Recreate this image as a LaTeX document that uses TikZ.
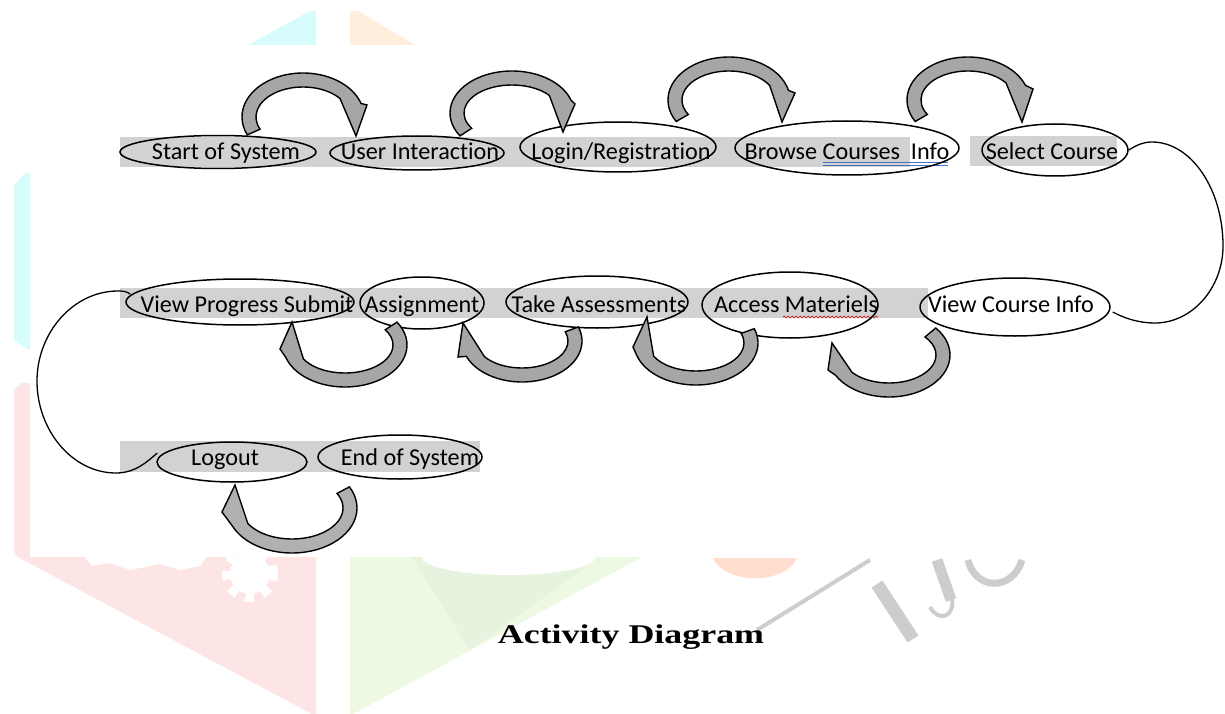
\documentclass[tikz,border=0pt]{standalone}
\usepackage{fontspec}
\setmainfont{Carlito}[Ligatures=NoCommon]
\newfontfamily\titlefont{Liberation Serif}
\usetikzlibrary{shapes.geometric,decorations.pathmorphing}
\definecolor{hl}{RGB}{210,210,210}
\definecolor{arrowfill}{RGB}{166,166,166}
\definecolor{arrowfilltwo}{RGB}{176,176,176}
\definecolor{wmcyan}{RGB}{214,252,252}
\definecolor{wmorange}{RGB}{255,238,220}
\definecolor{wmpink}{RGB}{253,229,229}
\definecolor{wmgreen}{RGB}{238,249,228}
\definecolor{wmgreentwo}{RGB}{230,243,222}
\definecolor{wmgrey}{RGB}{205,205,205}
\definecolor{wmorangetwo}{RGB}{255,222,208}
\definecolor{gramblue}{RGB}{68,114,196}
\newcommand\blockarc[9]{%
  \pgfmathsetmacro\bxi{#3-#5}\pgfmathsetmacro\byi{#4-#5}%
  \pgfmathsetmacro\pax{#1+#3*cos(#6)}\pgfmathsetmacro\pay{#2+#4*sin(#6)}%
  \pgfmathsetmacro\pbx{#1+\bxi*cos(#8)}\pgfmathsetmacro\pby{#2+\byi*sin(#8)}%
  \pgfmathsetmacro\nsa{-(#6)}\pgfmathsetmacro\nea{-(#7)}\pgfmathsetmacro\nia{-(#8)}%
  \draw[barrowst] (\pax,\pay)
    arc[start angle=\nsa,end angle=\nea,x radius=#3pt,y radius=#4pt]
    -- #9 -- (\pbx,\pby)
    arc[start angle=\nia,end angle=\nsa,x radius=\bxi pt,y radius=\byi pt] -- cycle;}
\begin{document}
\begin{tikzpicture}[x=1pt,y=-1pt,
  act/.style={draw=black,line width=1.5pt,ellipse,inner sep=0pt},
  lbl/.style={font=\fontsize{24.2}{29}\selectfont,inner sep=0pt,anchor=base},
  barrowst/.style={draw=black,line width=1.4pt,fill=arrowfill,line join=miter},
  conn/.style={draw=black,line width=1.3pt}]
\useasboundingbox (0,0) rectangle (1225,714);
\fill[white] (0,0) rectangle (1225,714);
% watermark
\fill[wmcyan] (248,45) -- (310,11) -- (316,11) -- (316,45) -- cycle;
\fill[wmorange] (350,11) -- (358,11) -- (415,45) -- (350,45) -- cycle;
\fill[wmcyan] (14,185) -- (25,173) -- (30,173) -- (30,350) -- (25,348) -- (14,340) -- cycle;
\fill[wmpink] (14,390) -- (22,383) -- (30,383) -- (30,557) -- (316,557) -- (316,714) -- (312,714) -- (16,556) -- (14,550) -- cycle;
\fill[white] (250,574) circle[radius=20pt];
\draw[white,line width=8pt,dash pattern=on 9pt off 9pt] (250,574) circle[radius=24pt];
\fill[white] (85,557) -- (206,557) -- (200,566) -- (180,570) -- (160,564) -- (130,570) -- (110,563) -- (92,566) -- cycle;
\fill[wmgreen] (350,557) -- (642,557) -- (353,714) -- (350,714) -- cycle;
\fill[wmgreentwo] (412,557) -- (600,557) -- (470,650) -- cycle;
\fill[white] (422,557) arc[start angle=180,end angle=360,x radius=87pt,y radius=18pt] -- cycle;
\fill[wmorangetwo] (713,558) .. controls (725,585) and (785,585) .. (797,558) -- cycle;
\draw[wmgrey,line width=4pt] (870,560) -- (757,630);
\draw[wmgrey,line width=13pt] (877,584) -- (913,639);
\draw[wmgrey,line width=11pt] (937,560) -- (951,600);
\draw[wmgrey,line width=4pt] (952,598) .. controls (955,618) and (938,622) .. (930,607);
\draw[wmgrey,line width=7pt] (968,560) .. controls (975,590) and (1012,592) .. (1022,560);
% highlight bars
\fill[hl] (120,137) rectangle (910,167);
\fill[hl] (970,136) rectangle (1117,166);
\fill[hl] (120,288) rectangle (928,318);
\fill[hl] (120,441) rectangle (480,472);
% spelling marks
\draw[gramblue,line width=0.8pt] (823,162) -- (948,162) (823,165.5) -- (948,165.5);
\draw[red!80!black,line width=0.6pt,decorate,decoration={snake,amplitude=1pt,segment length=4pt}] (783,317) -- (878,317);
% texts
\node[lbl] (startT) at (226,160) {Start of System};
\node[lbl] (userT) at (420,160) {User Interaction};
\node[lbl] (loginT) at (621,160) {Login/Registration};
\node[lbl] (browseT) at (847,160) {Browse Courses\ \ Info};
\node[lbl] (selT) at (1052,160) {Select Course};
\node[lbl] (vpsT) at (247,312) {View Progress Submit};
\node[lbl] (assT) at (422,312) {Assignment};
\node[lbl] (takeT) at (599,312) {Take Assessments};
\node[lbl] (accT) at (796,312) {Access Materiels};
\node[lbl] (vciT) at (1011,312) {View Course Info};
\node[lbl] (logoutT) at (225,465) {Logout};
\node[lbl] (endT) at (410,465) {End of System};
% ellipses
\node[act,minimum width=196pt,minimum height=33pt] (start) at (218,152) {};
\node[act,minimum width=174pt,minimum height=34pt] (user) at (417,153) {};
\node[act,minimum width=196pt,minimum height=50pt] (login) at (618,147) {};
\node[act,minimum width=224pt,minimum height=54pt] (browse) at (847,148) {};
\node[act,minimum width=146pt,minimum height=52pt] (sel) at (1055,150) {};
\node[act,minimum width=228pt,minimum height=46pt] (vps) at (240,302) {};
\node[act,minimum width=124pt,minimum height=52pt] (ass) at (422,303) {};
\node[act,minimum width=182pt,minimum height=52pt] (take) at (597,302) {};
\node[act,minimum width=176pt,minimum height=66pt] (acc) at (790,305) {};
\node[act,minimum width=190pt,minimum height=58pt] (vci) at (1015,307) {};
\node[act,minimum width=150pt,minimum height=40pt] (logout) at (232,462) {};
\node[act,minimum width=164pt,minimum height=44pt] (endS) at (400,457) {};
% block arrows
\blockarc{303}{117}{61}{44}{14}{156}{342}{322}{(367,105) -- (356,136)}
\blockarc{512}{113}{62}{42}{14}{147}{342}{321}{(575,104) -- (563,132)}
\blockarc{729}{100}{61}{43}{14}{150}{347}{330}{(795,93) -- (782,122)}
\blockarc{968}{100}{61}{43}{14}{150}{340}{324}{(1033,89) -- (1022,122)}
\blockarc{345}{345}{62}{42}{14}{-33}{163}{150}{(280,349) -- (292,322)}
\blockarc{522}{341}{60}{41}{14}{-20}{158}{145}{(458,357) -- (463,323)}
\blockarc{696}{343}{62}{42}{14}{-20}{162}{152}{(633,347) -- (647,317)}
\blockarc{889}{355}{61}{42}{14}{-40}{151}{142}{(828,370) -- (832,343)}
\tikzset{barrowst/.append style={fill=arrowfilltwo}}
\blockarc{292}{508}{65}{45}{14}{-28}{156}{150}{(222,512) -- (235,485)}
% connectors
\draw[conn] (sel.east) .. controls (1137,145) and (1143,142) .. (1152,142)
  .. controls (1191,142) and (1223,189) .. (1223,246)
  .. controls (1223,288) and (1192,323) .. (1155,323)
  .. controls (1138,323) and (1124,318) .. ([shift={(2,5)}]vci.east);
\draw[conn] ([shift={(5,-8)}]vps.west) .. controls (126,291) and (122,291) .. (118,291)
  .. controls (73,291) and (37,333) .. (37,381)
  .. controls (37,430) and (72,473) .. (116,473)
  .. controls (135,473) and (147,462) .. ([shift={(1,-9)}]logout.west);
% title
\node[font=\titlefont\bfseries\fontsize{27}{32}\selectfont,anchor=base,inner sep=0pt,xscale=1.33,transform shape] (title) at (631,643) {Activity Diagram};
\end{tikzpicture}
\end{document}
